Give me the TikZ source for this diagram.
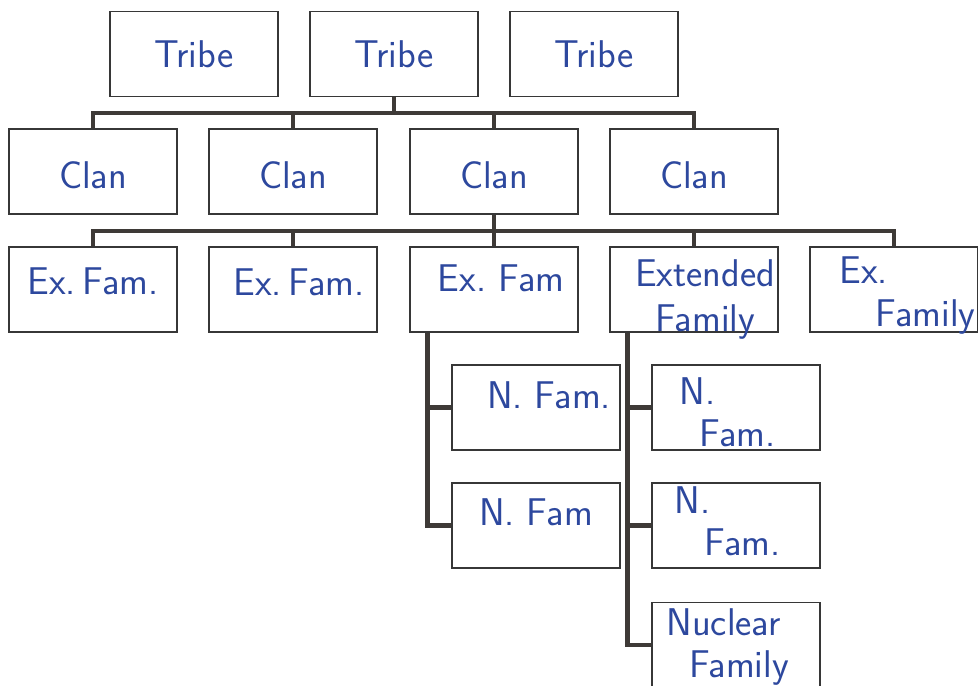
\documentclass[tikz,border=0pt]{standalone}
\definecolor{handblue}{RGB}{45,72,158}
\definecolor{linegray}{RGB}{62,58,55}
\definecolor{boxgray}{RGB}{55,55,55}

\begin{document}
\begin{tikzpicture}[x=0.02cm,y=-0.02cm]
	\tikzstyle{box}=[draw=boxgray,line width=0.9pt,fill=white,minimum width=3.36cm,minimum height=1.7cm,inner sep=0pt]
	\tikzstyle{hand}=[text=handblue,font=\sffamily\fontsize{22}{24}\selectfont,align=left,inner sep=0pt]
	\tikzstyle{link}=[draw=linegray,line width=2.8pt]

	\useasboundingbox (0,0) rectangle (978,686);
	\clip (0,0) rectangle (978,686);

	% Draw the tribe row
	\foreach \name / \x in {1/194,2/394,3/594}
	\node[box,label={[hand]center:Tribe}] (T-\name) at (\x,54) {};

	% Draw the clan row
	\foreach \name / \x in {1/93,2/293,3/494,4/694}
	\node[box,label={[hand,yshift=-0.08cm]center:Clan}] (C-\name) at (\x,171.5) {};

	% Draw the extended families
	\node[box,label={[hand,yshift=0.17cm]center:Ex.\,Fam.}] (E-1) at (93,289.5) {};
	\node[box,label={[hand,xshift=0.12cm,yshift=0.15cm]center:Ex.\,Fam.}] (E-2) at (293,289.5) {};
	\node[box,label={[hand,xshift=0.14cm,yshift=0.23cm]center:Ex.~Fam}] (E-3) at (494,289.5) {};
	\node[box,label={[hand,align=center,xshift=0.22cm,yshift=-0.2cm]center:{Extended\\[2pt]Family}}] (E-4) at (694,289.5) {};
	\node[box,label={[hand,anchor=west,xshift=0.6cm,yshift=-0.12cm]west:{Ex.\\\hspace{0.72cm}Family}}] (E-5) at (894,289.5) {};

	% Draw the nuclear families
	\node[box,label={[hand,xshift=0.26cm,yshift=0.25cm]center:N.~Fam.}] (NL-1) at (536,407.5) {};
	\node[box,label={[hand,yshift=0.26cm]center:N.~Fam}] (NL-2) at (536,525.5) {};
	\node[box,label={[hand,anchor=west,xshift=0.56cm,yshift=-0.09cm]west:{N.\\\hspace{0.4cm}Fam.}}] (NR-1) at (736,407.5) {};
	\node[box,label={[hand,anchor=west,xshift=0.46cm,yshift=0.09cm]west:{N.\\\hspace{0.6cm}Fam.}}] (NR-2) at (736,525.5) {};
	\node[box,label={[hand,anchor=west,xshift=0.3cm,yshift=-0.04cm]west:{Nuclear\\\hspace{0.45cm}Family}}] (NR-3) at (736,645) {};

	% Connect the tribe to every clan
	\coordinate (bus-1) at (0,113);
	\draw[link] (C-1.north) |- (bus-1 -| C-4.north) -- (C-4.north);
	\foreach \dest in {2,3}
	\draw[link] (C-\dest.north) -- (C-\dest.north |- bus-1);
	\draw[link] (T-2.south) -- (T-2.south |- bus-1);

	% Connect the clan to every extended family
	\coordinate (bus-2) at (0,231);
	\draw[link] (E-1.north) |- (bus-2 -| E-5.north) -- (E-5.north);
	\foreach \dest in {2,3,4}
	\draw[link] (E-\dest.north) -- (E-\dest.north |- bus-2);
	\draw[link] (C-3.south) -- (C-3.south |- bus-2);

	% Hang the nuclear families below
	\coordinate (stem-L) at ([xshift=0.36cm]E-3.south west);
	\coordinate (stem-R) at ([xshift=0.36cm]E-4.south west);
	\foreach \dest in {1,2}
	\draw[link] (stem-L) |- (NL-\dest.west);
	\foreach \dest in {1,2,3}
	\draw[link] (stem-R) |- (NR-\dest.west);
\end{tikzpicture}
\end{document}
